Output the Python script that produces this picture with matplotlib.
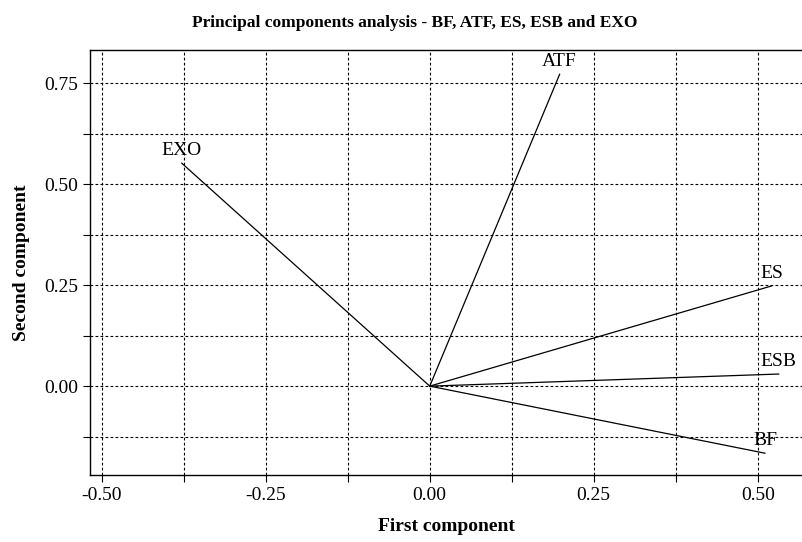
import matplotlib
matplotlib.use('Agg')
import matplotlib.pyplot as plt
from matplotlib.ticker import MultipleLocator

plt.rcParams['font.family'] = ['Liberation Serif', 'DejaVu Serif']

# loadings of each variable on the first two components
variables = ['BF', 'ATF', 'ES', 'ESB', 'EXO']
first_comp = [0.511, 0.198, 0.521, 0.532, -0.378]
second_comp = [-0.166, 0.772, 0.248, 0.030, 0.552]

fig = plt.figure(figsize=(8.03, 5.42), dpi=100)
ax = fig.add_axes([0.112, 0.1236, 0.888, 0.784])

for name, x, y in zip(variables, first_comp, second_comp):
    ax.plot([0, x], [0, y], color='black', linewidth=0.9)
    ax.annotate(name, (x, y), xytext=(0, 3), textcoords='offset points',
                ha='center', va='bottom', fontsize=14)

ax.set_xlim(-0.518, 0.569)
ax.set_ylim(-0.220, 0.832)
ax.xaxis.set_major_locator(MultipleLocator(0.25))
ax.yaxis.set_major_locator(MultipleLocator(0.25))
ax.xaxis.set_minor_locator(MultipleLocator(0.125))
ax.yaxis.set_minor_locator(MultipleLocator(0.125))
ax.xaxis.set_major_formatter(lambda v, p: '%.2f' % v)
ax.yaxis.set_major_formatter(lambda v, p: '%.2f' % v)

ax.grid(which='both', color='black', linestyle=(0, (2.5, 2)), linewidth=0.8)
ax.set_axisbelow(True)
ax.tick_params(which='both', direction='out', length=5, width=0.8, labelsize=14)
ax.spines['right'].set_visible(False)
for s in ['left', 'bottom', 'top']:
    ax.spines[s].set_linewidth(1.0)

ax.set_xlabel('First component', fontsize=14, fontweight='bold', labelpad=10)
ax.set_ylabel('Second component', fontsize=14, fontweight='bold', labelpad=10)
fig.text(0.517, 0.958, 'Principal components analysis - BF, ATF, ES, ESB and EXO',
         ha='center', va='center', fontsize=12.5, fontweight='bold')

fig.savefig('out.png', dpi=100)
